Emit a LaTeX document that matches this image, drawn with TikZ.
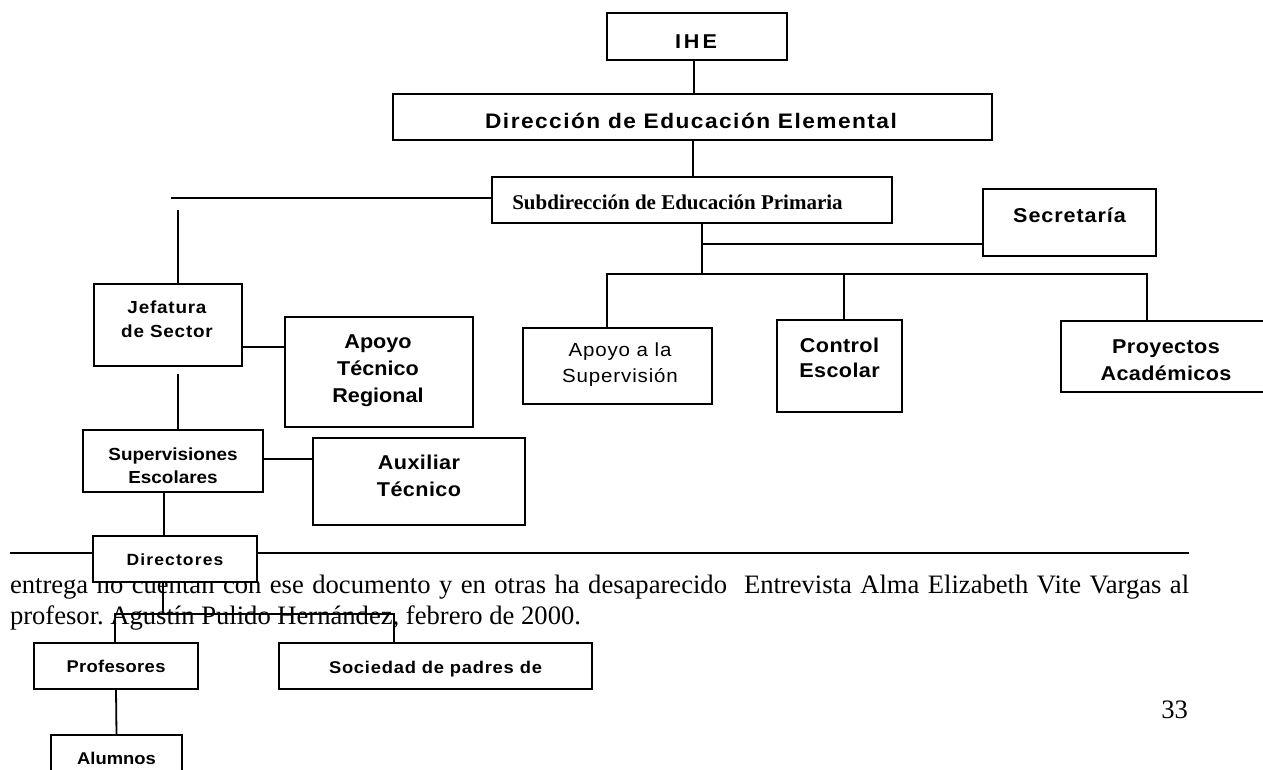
\documentclass[tikz,border=0pt]{standalone}
\usepackage{fontspec}
\setmainfont{Liberation Serif}
\newfontfamily\sZ[FakeStretch=1.08,LetterSpace=0]{Liberation Sans}
\newfontfamily\sA[FakeStretch=1.08,LetterSpace=2]{Liberation Sans}
\newfontfamily\sB[FakeStretch=1.08,LetterSpace=4.5]{Liberation Sans}
\newfontfamily\sC[FakeStretch=1.08,LetterSpace=7]{Liberation Sans}
\newfontfamily\sD[FakeStretch=1.08,LetterSpace=15]{Liberation Sans}
\tikzset{
  box/.style={draw, line width=1.8pt, fill=white, inner sep=0pt, outer sep=0pt},
  wire/.style={line width=1.8pt},
  rulerline/.style={line width=2.4pt},
  lab/.style={inner sep=0pt, outer sep=0pt, align=center},
  body/.style={inner sep=0pt, outer sep=0pt, font=\frenchspacing\fontsize{26.6}{32}\selectfont},
}
\begin{document}
\begin{tikzpicture}[x=1pt,y=-1pt]
\useasboundingbox (0,0) rectangle (1263,769);
\clip (0,0) rectangle (1263,769);

% footnote rule and footnote text
\coordinate (rl) at (10,553);
\coordinate (rr) at (1189,553);
\draw[rulerline] (rl) -- (rr);
\node[body, anchor=base west] (t1) at (10,593) {\hbox to 1179pt{entrega no cuentan con ese documento y en otras ha desaparecido\ \ Entrevista Alma Elizabeth Vite Vargas al}};
\node[body, anchor=base west] (t2) at (10,624) {profesor. Agustín Pulido Hernández, febrero de 2000.};
\node[body, anchor=base east] (pg) at (1188,718) {33};

% boxes
\node[box, minimum width=180pt, minimum height=47pt,
  label={[lab, font=\sD\bfseries\fontsize{20}{24}\selectfont, xshift=-1pt, yshift=-5.5pt]center:IHE}] (ihe) at (697,36.5) {};
\node[box, minimum width=599pt, minimum height=46pt,
  label={[lab, font=\sC\bfseries\fontsize{21}{25}\selectfont, xshift=-1.5pt, yshift=-4.2pt]center:Dirección de Educación Elemental}] (dir) at (692.5,117) {};
\node[box, minimum width=400pt, minimum height=46pt,
  label={[lab, font=\bfseries\fontsize{21}{25}\selectfont, xshift=-14.5pt, yshift=-2pt]center:Subdirección de Educación Primaria}] (sub) at (692,200) {};
\node[box, minimum width=173pt, minimum height=67pt,
  label={[lab, font=\sB\bfseries\fontsize{20}{24}\selectfont, yshift=7.5pt]center:Secretaría}] (sec) at (1069.5,222.5) {};
\node[box, minimum width=189pt, minimum height=76pt,
  label={[lab, font=\sB\fontsize{19}{26}\selectfont, xshift=2.5pt, yshift=1.4pt]center:Apoyo a la\\Supervisión}] (aps) at (617.5,366) {};
\node[box, minimum width=125pt, minimum height=92pt,
  label={[lab, font=\sA\bfseries\fontsize{20}{25}\selectfont, yshift=8.3pt]center:Control\\Escolar}] (ctl) at (839.5,366) {};
\node[box, minimum width=214pt, minimum height=71pt,
  label={[lab, font=\sA\bfseries\fontsize{20}{27}\selectfont, xshift=-2pt, yshift=-3.4pt]center:Proyectos\\Académicos}] (prj) at (1168,356.5) {};
\node[box, minimum width=148pt, minimum height=82pt,
  label={[lab, font=\sB\bfseries\fontsize{17.5}{24}\selectfont, xshift=-1pt, yshift=6pt]center:Jefatura\\de Sector}] (jef) at (168,325) {};
\node[box, minimum width=188pt, minimum height=110pt,
  label={[lab, font=\sZ\bfseries\fontsize{20}{27}\selectfont, xshift=-1pt, yshift=1.7pt]center:Apoyo\\Técnico\\Regional}] (atr) at (379,372) {};
\node[box, minimum width=180pt, minimum height=62pt,
  label={[lab, font=\sZ\bfseries\fontsize{17.5}{23}\selectfont, yshift=-4.4pt]center:Supervisiones\\Escolares}] (sup) at (173,461) {};
\node[box, minimum width=212pt, minimum height=87pt,
  label={[lab, font=\sA\bfseries\fontsize{20}{27}\selectfont, yshift=5.8pt]center:Auxiliar\\Técnico}] (aux) at (419,481.5) {};
\node[box, minimum width=164pt, minimum height=46pt,
  label={[lab, font=\sC\bfseries\fontsize{16.2}{19}\selectfont, yshift=-0.5pt]center:Directores}] (dirs) at (175,559) {};
\node[box, minimum width=164pt, minimum height=46pt,
  label={[lab, font=\sA\bfseries\fontsize{17}{20}\selectfont, yshift=-0.5pt]center:Profesores}] (prof) at (116,666) {};
\node[box, minimum width=313pt, minimum height=46pt,
  label={[lab, font=\sB\bfseries\fontsize{17}{20}\selectfont, yshift=-2.6pt]center:Sociedad de padres de}] (soc) at (435.5,666) {};
\node[box, minimum width=131pt, minimum height=45pt,
  label={[lab, font=\sZ\bfseries\fontsize{17}{20}\selectfont, yshift=-1pt]center:Alumnos}] (alu) at (116.5,757.5) {};

% connectors
\draw[wire] ([xshift=-3pt]ihe.south) -- ([xshift=-3pt]ihe.south |- dir.north);
\draw[wire] ([xshift=0.5pt]dir.south) -- ([xshift=0.5pt]dir.south |- sub.north);
\coordinate (hl) at (171,198);
\draw[wire] (hl) -- (hl -| sub.west);
\coordinate (vt) at (178,210);
\draw[wire] (vt) -- (vt |- jef.north);
\draw[wire] ([yshift=-22pt]jef.east) -- ([yshift=-22pt]jef.east -| atr.west);
\coordinate (vj) at (178,374);
\draw[wire] (vj) -- (vj |- sup.north);
\draw[wire] ([yshift=2pt]sup.east) -- ([yshift=2pt]sup.east -| aux.west);
\draw[wire] ([xshift=-9pt]sup.south) -- ([xshift=-9pt]sup.south |- dirs.north);
\coordinate (bd) at (163,614);
\draw[wire] (bd |- dirs.south) -- (bd);
\coordinate (bpl) at (115,614);
\coordinate (bpr) at (394,614);
\draw[wire] (bpl |- prof.north) -- (bpl) -- (bpr) -- (bpr |- soc.north);
\draw[wire] (prof.south) -- (alu.north);
\coordinate (sv) at (702,274);
\draw[wire] (sv |- sub.south) -- (sv);
\coordinate (sj) at (702,244);
\draw[wire] (sj) -- (sj -| sec.west);
\coordinate (bl) at (607,274);
\coordinate (bm) at (844,274);
\coordinate (brr) at (1147,274);
\draw[wire] (bl |- aps.north) -- (bl) -- (brr) -- (brr |- prj.north);
\draw[wire] (bm) -- (bm |- ctl.north);
\end{tikzpicture}
\end{document}
